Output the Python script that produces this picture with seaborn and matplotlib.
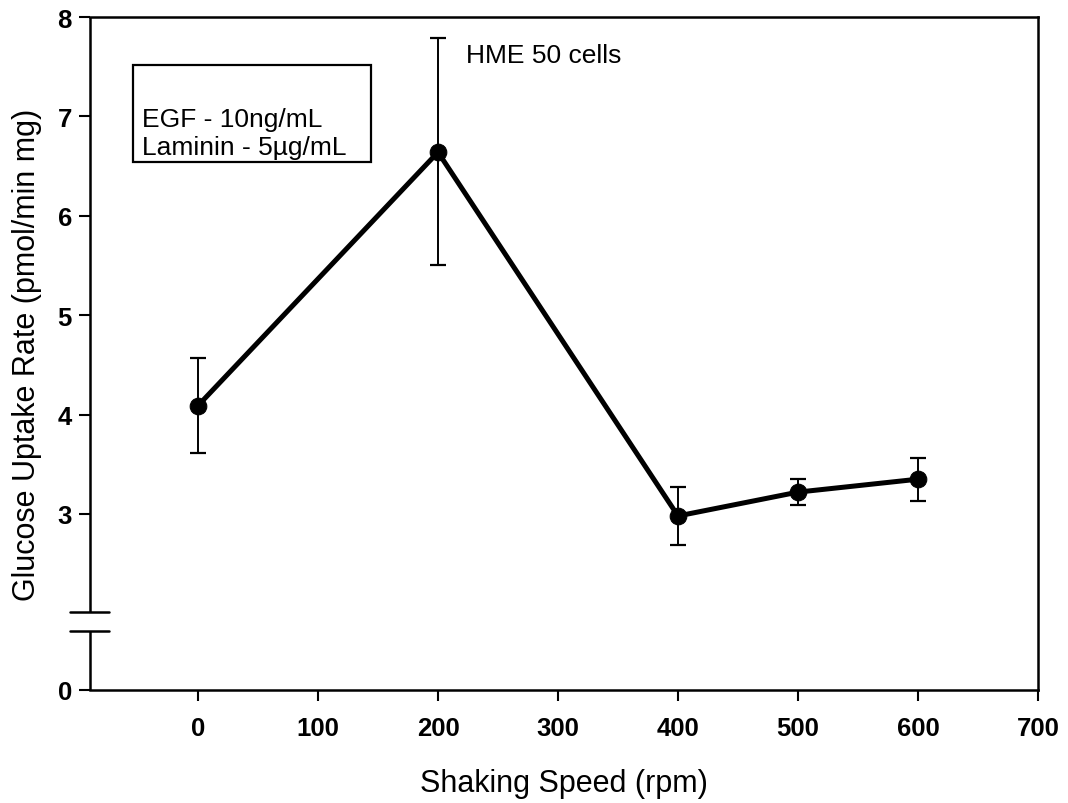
import numpy as np
import pandas as pd
import matplotlib
matplotlib.use("Agg")
import matplotlib.pyplot as plt
import seaborn as sns
from matplotlib.patches import Rectangle

# ---- data ----
speed = [0, 200, 400, 500, 600]
uptake = [4.09, 6.64, 2.98, 3.22, 3.35]
err_low = [0.48, 1.14, 0.29, 0.13, 0.22]
err_high = [0.48, 1.15, 0.29, 0.13, 0.21]
x_ticks = [0, 100, 200, 300, 400, 500, 600, 700]
y_ticks = [0, 3, 4, 5, 6, 7, 8]
x_label = "Shaking Speed (rpm)"
y_label = "Glucose Uptake Rate (pmol/min mg)"
note_cells = "HME 50 cells"
note_box = ["EGF - 10ng/mL", "Laminin - 5µg/mL"]

sns.set_style("white")
plt.rcParams['font.family'] = ['Liberation Sans', 'DejaVu Sans']
plt.rcParams['text.color'] = 'black'
plt.rcParams['axes.labelcolor'] = 'black'
plt.rcParams['xtick.color'] = 'black'
plt.rcParams['ytick.color'] = 'black'

df = pd.DataFrame({"speed": speed, "uptake": uptake})

fig = plt.figure(figsize=(10.68, 8.04), dpi=100)
ax = fig.add_axes([90/1068, 1 - 691/804, (1038 - 90)/1068, (691 - 18)/804])

# broken y scale: compress region below 2
c0, c1 = 1.229, (2 - 1.229) / 2
def fwd(y):
    y = np.asarray(y, dtype=float)
    return np.where(y >= 2, y, c0 + c1 * y)
def inv(v):
    v = np.asarray(v, dtype=float)
    return np.where(v >= 2, v, (v - c0) / c1)
ax.set_yscale('function', functions=(fwd, inv))

ax.errorbar(speed, uptake, yerr=[err_low, err_high], fmt='none',
            ecolor='black', elinewidth=1.4, capsize=5.8, capthick=1.6, zorder=2)
sns.lineplot(data=df, x="speed", y="uptake", ax=ax, color='black',
             linewidth=3.6, marker='o', markersize=12, markeredgecolor='black',
             markerfacecolor='black', zorder=3)

ax.set_xlim(-90, 700)
ax.set_ylim(0, 8)
ax.set_xticks(x_ticks)
ax.set_xticklabels([str(t) for t in x_ticks])
ax.set_yticks(y_ticks)
ax.set_yticklabels([str(t) for t in y_ticks])

ax.tick_params(axis='x', direction='out', length=8, width=1.5, pad=11,
               labelsize=18.5, bottom=True, colors='black')
ax.tick_params(axis='y', direction='out', length=8, width=1.5, pad=5,
               labelsize=18.5, left=True, colors='black')
for lab in ax.get_xticklabels() + ax.get_yticklabels():
    lab.set_fontweight('bold')

ax.set_xlabel(x_label, fontsize=22, labelpad=20, color='black')
ax.set_ylabel(y_label, fontsize=22, labelpad=11, color='black')

for s in ['top', 'right', 'bottom']:
    ax.spines[s].set_visible(True)
    ax.spines[s].set_linewidth(1.8)
    ax.spines[s].set_color('black')
ax.spines['left'].set_visible(False)

# left spine drawn in two pieces with axis break marks
ytr = ax.get_yaxis_transform()
brk_lo, brk_hi = 1.54, 2.01
ax.plot([0, 0], [0, brk_lo], transform=ytr, color='black', lw=1.8,
        clip_on=False, solid_capstyle='butt')
ax.plot([0, 0], [brk_hi, 8], transform=ytr, color='black', lw=1.8,
        clip_on=False, solid_capstyle='butt')
for yb in (brk_lo, brk_hi):
    ax.plot([-0.021, 0.02], [yb, yb], transform=ytr, color='black', lw=1.8,
            clip_on=False)

# annotations
ax.text(223, 7.62, note_cells, fontsize=19, ha='left', va='center', color='black')
ax.add_patch(Rectangle((-54, 6.54), 198, 0.977, fill=False, edgecolor='black',
                       lw=1.6, zorder=4))
ax.text(-47, 6.97, note_box[0], fontsize=19, ha='left', va='center', color='black')
ax.text(-47, 6.69, note_box[1], fontsize=19, ha='left', va='center', color='black')

fig.savefig("out.png", dpi=100)
